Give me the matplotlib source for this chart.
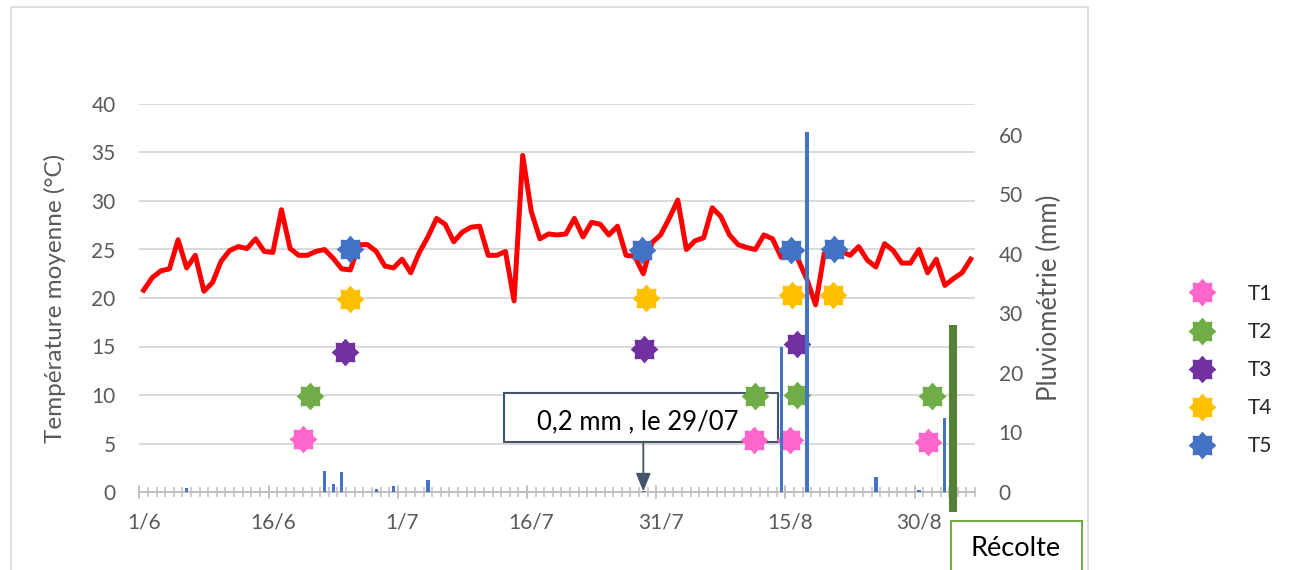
import numpy as np
import matplotlib
matplotlib.use("Agg")
import matplotlib.pyplot as plt
from matplotlib.path import Path
from matplotlib.patches import Rectangle
from matplotlib.lines import Line2D

plt.rcParams['font.family'] = ['Lato', 'DejaVu Sans']

# ---------------- data ----------------
days = np.arange(97)  # 0 = 1/6 ... 96 = 5/9
temperature = [20.8, 22.1, 22.8, 23.0, 26.0, 23.1, 24.4, 20.7, 21.6, 23.8,
               24.9, 25.3, 25.1, 26.1, 24.8, 24.7, 29.1, 25.1, 24.4, 24.4,
               24.8, 25.0, 24.1, 23.0, 22.9, 25.5, 25.5, 24.8, 23.3, 23.1,
               24.0, 22.6, 24.7, 26.3, 28.2, 27.6, 25.8, 26.8, 27.3, 27.4,
               24.4, 24.4, 24.8, 19.7, 34.7, 28.9, 26.1, 26.6, 26.5, 26.6,
               28.2, 26.3, 27.8, 27.6, 26.5, 27.4, 24.4, 24.3, 22.5, 25.7,
               26.5, 28.2, 30.1, 25.0, 25.9, 26.2, 29.3, 28.4, 26.5, 25.5,
               25.2, 25.0, 26.5, 26.1, 24.2, 25.2, 23.9, 21.9, 19.3, 24.6,
               25.0, 24.8, 24.4, 25.3, 23.9, 23.2, 25.6, 24.9, 23.6, 23.6,
               25.0, 22.6, 24.0, 21.3, 22.0, 22.6, 24.0]

rain_days = [5, 21, 22, 23, 27, 29, 33, 58, 74, 77, 85, 90, 93]
rain_mm = [0.7, 3.5, 1.3, 3.4, 0.45, 1.0, 2.1, 0.2, 24.3, 60.5, 2.6, 0.3, 12.4]

t1_days = [18.5, 70.8, 75.0, 91.0]
t1_vals = [5.45, 5.4, 5.4, 5.2]
t2_days = [19.3, 71.0, 75.8, 91.5]
t2_vals = [9.9, 9.9, 10.0, 9.9]
t3_days = [23.4, 58.1, 75.8]
t3_vals = [14.4, 14.7, 15.3]
t4_days = [23.9, 58.3, 75.3, 80.0]
t4_vals = [19.9, 20.0, 20.3, 20.3]
t5_days = [23.9, 57.9, 75.2, 80.1]
t5_vals = [25.0, 24.9, 24.9, 25.0]

treat_names = ['T1', 'T2', 'T3', 'T4', 'T5']
treat_colors = ['#FF66CC', '#70AD47', '#7030A0', '#FFC000', '#4472C4']

xtick_days = [0, 15, 30, 45, 60, 75, 90]
xtick_labels = ['1/6', '16/6', '1/7', '16/7', '31/7', '15/8', '30/8']
temp_ticks = [0, 5, 10, 15, 20, 25, 30, 35, 40]
rain_ticks = [0, 10, 20, 30, 40, 50, 60]

annot_day = 58
annot_text = '0,2 mm , le 29/07'
harvest_day = 94.0
harvest_text = 'Récolte'


def star_marker(n=8, inner=0.74):
    k = np.arange(2 * n)
    ang = np.pi / 2 + k * np.pi / n
    r = np.where(k % 2 == 0, 1.0, inner)
    verts = np.column_stack([r * np.cos(ang), r * np.sin(ang)])
    verts = np.vstack([verts, verts[0]])
    codes = [Path.MOVETO] + [Path.LINETO] * (2 * n - 1) + [Path.CLOSEPOLY]
    return Path(verts, codes)


STAR = star_marker()
W, H = 1290, 570
fig = plt.figure(figsize=(W / 100, H / 100), dpi=100)
fig.patch.set_facecolor('white')

# outer chart border
fig.patches.append(Rectangle((11 / W, -0.05), (1088 - 11) / W, 1.05 - 7 / H,
                             transform=fig.transFigure, fill=False,
                             edgecolor='#D9D9D9', lw=1.2))

ax = fig.add_axes([139.3 / W, 78 / H, (975 - 139.3) / W, (492 - 104) / H])
ax.set_xlim(-0.5, 96.5)
ax.set_ylim(0, 40)

tick_col = '#595959'
ax.set_yticks(temp_ticks)
ax.tick_params(axis='y', length=0, pad=17, labelsize=15, labelcolor=tick_col)
ax.grid(axis='y', color='#D9D9D9', lw=1.4, zorder=1)
ax.set_axisbelow(True)
for s in ['top', 'left', 'right']:
    ax.spines[s].set_visible(False)
ax.spines['bottom'].set_color('#BFBFBF')
ax.spines['bottom'].set_linewidth(1.4)

ax.set_xticks(xtick_days)
ax.set_xticklabels(xtick_labels)
ax.tick_params(axis='x', which='major', length=0, pad=15, labelsize=15, labelcolor=tick_col)
ax.set_xticks(np.arange(-0.5, 97, 1), minor=True)
ax.tick_params(axis='x', which='minor', direction='inout', length=6.5, width=1.1, color='#BFBFBF')
sec = ax.secondary_xaxis(0)
sec.set_xticks(np.arange(-0.5, 97, 15))
sec.tick_params(axis='x', direction='inout', length=9.5, width=1.1, color='#BFBFBF', labelbottom=False)
sec.spines['bottom'].set_visible(False)

ax.set_ylabel('Température moyenne (°C)', fontsize=17.5, color=tick_col, labelpad=18)

# annotation box (below markers)
ax.add_patch(Rectangle((41.8, 5.19), 73.6 - 41.8, 10.18 - 5.19,
                       fill=True, facecolor='white', edgecolor='#44546A', lw=1.5,
                       zorder=2.5))
ax.text(57.4, 7.25, annot_text, ha='center', va='center', fontsize=18.5,
        color='black', zorder=2.6)

# temperature line
ax.plot(days, temperature, color='#FF0000', lw=3.6, solid_joinstyle='round', zorder=3)

# treatment markers
for dd, vv, c in zip([t1_days, t2_days, t3_days, t4_days, t5_days],
                     [t1_vals, t2_vals, t3_vals, t4_vals, t5_vals], treat_colors):
    ax.plot(dd, vv, ls='none', marker=STAR, markersize=20, color=c,
            markeredgewidth=0, zorder=4)

# rainfall on secondary axis
ax2 = ax.twinx()
ax2.set_ylim(0, 65.2)
ax2.set_yticks(rain_ticks)
ax2.tick_params(axis='y', length=0, pad=17, labelsize=15, labelcolor=tick_col)
for s in ax2.spines.values():
    s.set_visible(False)
ax2.bar(rain_days, rain_mm, width=0.38, color='#4472C4', zorder=5)
ax2.set_ylabel('Pluviométrie (mm)', fontsize=18.5, color=tick_col, labelpad=10)

# arrow of the annotation
ax2.annotate('', xy=(annot_day, 0.1), xytext=(annot_day, 5.19 * 65.2 / 40),
             arrowprops=dict(arrowstyle='-|>,head_length=1.1,head_width=0.45',
                             color='#44546A', lw=1.3, shrinkA=0, shrinkB=0),
             zorder=7)

# harvest marker
ax2.plot([harvest_day, harvest_day], [-2.1 * 65.2 / 40, 17.2 * 65.2 / 40],
         color='#548235', lw=5.8, solid_capstyle='butt', clip_on=False, zorder=8)
fig.patches.append(Rectangle((951 / W, -0.05), (1082 - 951) / W, (570 - 521) / H + 0.05,
                             transform=fig.transFigure, fill=True, facecolor='white',
                             edgecolor='#70AD47', lw=1.5))
fig.text(1016 / W, (570 - 549) / H, harvest_text, ha='center', va='center',
         fontsize=19.5, color='black')

# legend
handles = [Line2D([], [], ls='none', marker=STAR, markersize=20, color=c, markeredgewidth=0)
           for c in treat_colors]
fig.legend(handles, treat_names, loc='center left', bbox_to_anchor=(1162.8 / W, (570 - 370) / H),
           frameon=False, fontsize=15, labelspacing=0.87, handlelength=2.0,
           handletextpad=1.2, labelcolor='#262626')

fig.savefig('out.png', dpi=100, facecolor='white')
